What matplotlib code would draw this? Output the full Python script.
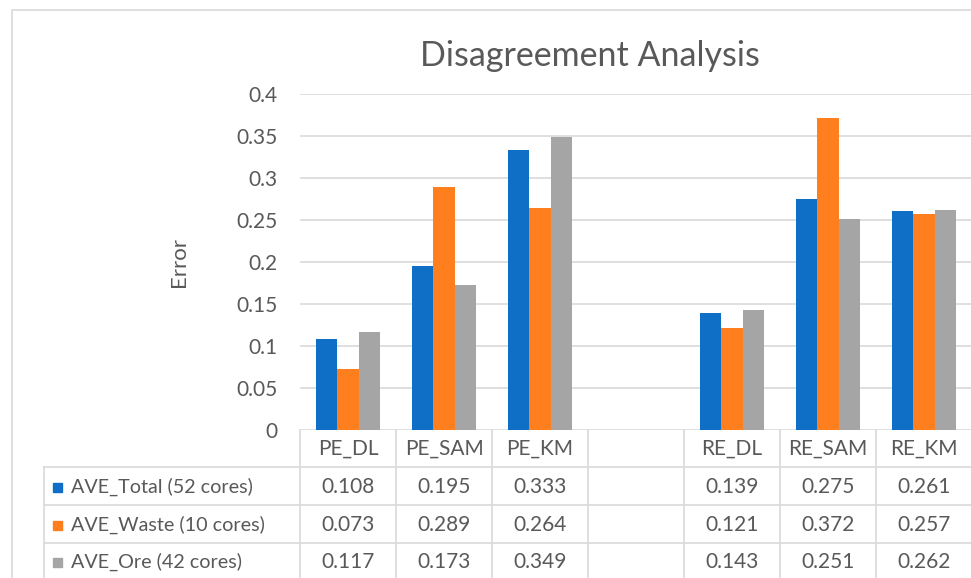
import matplotlib
matplotlib.use("Agg")
import matplotlib.pyplot as plt
from matplotlib.patches import Rectangle
from matplotlib.lines import Line2D
import matplotlib.transforms as mtransforms

plt.rcParams['font.family'] = ['Lato', 'DejaVu Sans']

categories = ['PE_DL', 'PE_SAM', 'PE_KM', '', 'RE_DL', 'RE_SAM', 'RE_KM']
series_names = ['AVE_Total (52 cores)', 'AVE_Waste (10 cores)', 'AVE_Ore (42 cores)']
ave_total = [0.108, 0.195, 0.333, None, 0.139, 0.275, 0.261]
ave_waste = [0.073, 0.289, 0.264, None, 0.121, 0.372, 0.257]
ave_ore = [0.117, 0.173, 0.349, None, 0.143, 0.251, 0.262]
yticks = [0, 0.05, 0.1, 0.15, 0.2, 0.25, 0.3, 0.35, 0.4]
ytick_labels = ['0', '0.05', '0.1', '0.15', '0.2', '0.25', '0.3', '0.35', '0.4']

colors = ['#0F6FC6', '#FF7F1F', '#A5A5A5']
grid_col = '#D9D9D9'
text_col = '#595959'

W, H = 971, 578
fig = plt.figure(figsize=(W / 100, H / 100), dpi=100)

# outer chart frame
fig.add_artist(Rectangle((12 / W, -0.05), 1.1, 1 - 10 / H + 0.05, transform=fig.transFigure,
                         fill=False, edgecolor=grid_col, linewidth=1.2))

ax_left, ax_right, ax_top, ax_bot = 300, 972, 94, 430
ax = fig.add_axes([ax_left / W, 1 - ax_bot / H, (ax_right - ax_left) / W, (ax_bot - ax_top) / H])
ax.set_xlim(-0.5, len(categories) - 0.5)
ax.set_ylim(0, 0.4)
for s in ax.spines.values():
    s.set_visible(False)
ax.set_xticks([])
ax.set_yticks(yticks)
ax.set_yticklabels(ytick_labels, fontsize=15, color=text_col)
ax.tick_params(axis='y', length=0, pad=16)
for t in yticks:
    ax.axhline(t, color=grid_col, linewidth=1.2, zorder=0)
ax.set_ylabel('Error', fontsize=16, color=text_col, labelpad=34)

bw = 0.222
for k, vals in enumerate([ave_total, ave_waste, ave_ore]):
    xs = [i + (k - 1) * bw for i, v in enumerate(vals) if v is not None]
    hs = [v for v in vals if v is not None]
    ax.bar(xs, hs, width=bw, color=colors[k], zorder=2)

fig.text(590 / W, 1 - 56 / H, 'Disagreement Analysis', fontsize=24.5, color=text_col,
         ha='center', va='center')

# data table below the axis
row_y = [449, 487, 525, 562]   # text centres, pixels from top
row_lines = [467, 505, 543]
trans = mtransforms.blended_transform_factory(ax.transData, fig.transFigure)
def fy(p):
    return 1 - p / H

for i in range(len(categories) + 1):
    x = i - 0.5
    fig.add_artist(Line2D([x, x], [fy(ax_bot), -0.01], transform=trans, color=grid_col, lw=1.2))
fig.add_artist(Line2D([44 / W, 44 / W], [fy(467), -0.01], transform=fig.transFigure, color=grid_col, lw=1.2))
for p in row_lines:
    fig.add_artist(Line2D([44 / W, 1.0], [fy(p), fy(p)], transform=fig.transFigure, color=grid_col, lw=1.2))

for i, c in enumerate(categories):
    fig.text(i, fy(row_y[0]), c, transform=trans, fontsize=15, color=text_col, ha='center', va='center')

for r, (name, vals) in enumerate(zip(series_names, [ave_total, ave_waste, ave_ore])):
    yy = fy(row_y[r + 1])
    fig.add_artist(Rectangle((53 / W, yy - 4.5 / H), 9 / W, 9 / H, transform=fig.transFigure,
                             color=colors[r]))
    fig.text(71 / W, yy, name, fontsize=14.2, color=text_col, ha='left', va='center')
    for i, v in enumerate(vals):
        if v is not None:
            fig.text(i, yy, f'{v:.3f}', transform=trans, fontsize=15, color=text_col,
                     ha='center', va='center')

fig.savefig('out.png', dpi=100)
